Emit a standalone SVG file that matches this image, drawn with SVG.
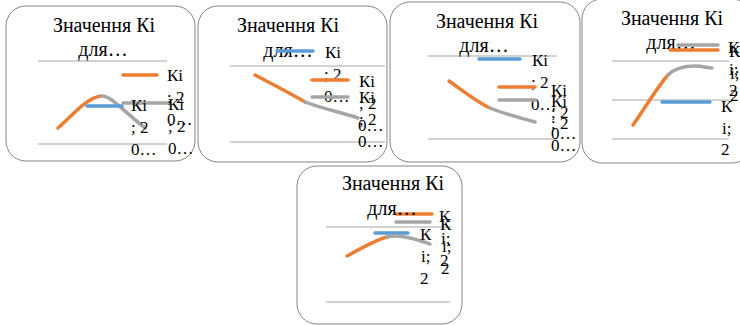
<svg xmlns="http://www.w3.org/2000/svg" width="740" height="325" viewBox="0 0 740 325">
<style>
.frame{fill:#fff;stroke:#858585;stroke-width:1}
.grid{stroke:#a6a6a6;stroke-width:1}
text{font-family:'Liberation Serif','DejaVu Serif',serif;fill:#000}
.t{font-size:20px;text-anchor:middle}
.l{font-size:17px}
.s{fill:none;stroke-width:3.5;stroke-linecap:round;stroke-linejoin:round}
.o{stroke:#ed7d31}
.b{stroke:#5b9bd5}
.g{stroke:#a5a5a5}
</style>
<rect width="740" height="325" fill="#fff"/>

<g id="chart1">
<rect class="frame" x="6" y="6" width="189" height="155" rx="20"/>
<line class="grid" x1="38" y1="61" x2="167" y2="61"/>
<line class="grid" x1="38" y1="144" x2="167" y2="144"/>
<text class="t" x="104" y="32">Значення Кі</text>
<text class="t" x="103" y="56">для…</text>
<path class="s o" d="M58,128 C72,116 86,98 101,96"/>
<path class="s g" d="M101,96 C110,95 120,108 145,128"/>
<path class="s b" d="M87,106 L122,106"/>
<path class="s o" d="M123,75 L157,75"/>
<path class="s g" d="M123,103 L167,103"/>
<text class="l" x="131" y="111">Кі</text>
<text class="l" x="131" y="133">; 2</text>
<text class="l" x="131" y="155">0…</text>
<text class="l" x="167" y="81">Кі</text>
<text class="l" x="167" y="103">; 2</text>
<text class="l" x="167" y="125">0…</text>
<text class="l" x="168" y="110">Кі</text>
<text class="l" x="168" y="132">; 2</text>
<text class="l" x="168" y="154">0…</text>
</g>

<g id="chart2">
<rect class="frame" x="198" y="6" width="189" height="156" rx="20"/>
<line class="grid" x1="230" y1="66" x2="385" y2="66"/>
<line class="grid" x1="230" y1="142" x2="385" y2="142"/>
<text class="t" x="288" y="32">Значення Кі</text>
<text class="t" x="288" y="57">для…</text>
<path class="s b" d="M277,51 L313,51"/>
<path class="s o" d="M255,75 C270,83 290,93 305,102"/>
<path class="s g" d="M305,102 C320,108 340,112 358,118"/>
<text class="l" x="325" y="58">Кі</text>
<text class="l" x="324" y="80">; 2</text>
<text class="l" x="324" y="102">0…</text>
<path class="s o" d="M312,80 L348,80"/>
<path class="s g" d="M312,97 L348,97"/>
<text class="l" x="359" y="87">Кі</text>
<text class="l" x="359" y="109">; 2</text>
<text class="l" x="358" y="131">0…</text>
<text class="l" x="359" y="103">Кі</text>
<text class="l" x="359" y="125">; 2</text>
<text class="l" x="358" y="147">0…</text>
</g>

<g id="chart3">
<rect class="frame" x="390" y="2" width="190" height="160" rx="20"/>
<line class="grid" x1="428" y1="56" x2="557" y2="56"/>
<line class="grid" x1="428" y1="139" x2="557" y2="139"/>
<text class="t" x="487" y="28">Значення Кі</text>
<text class="t" x="484" y="52">для…</text>
<path class="s b" d="M479,59 L520,59"/>
<path class="s o" d="M449,81 C462,90 477,102 490,108"/>
<path class="s g" d="M490,108 C505,114 520,118 535,122"/>
<text class="l" x="532" y="66">Кі</text>
<text class="l" x="531" y="88">; 2</text>
<text class="l" x="531" y="110">0…</text>
<path class="s o" d="M499,87 L535,87"/>
<path class="s g" d="M499,100 L535,100"/>
<text class="l" x="551" y="96">Кі</text>
<text class="l" x="551" y="118">; 2</text>
<text class="l" x="551" y="139">0…</text>
<text class="l" x="551" y="107">Кі</text>
<text class="l" x="551" y="129">; 2</text>
<text class="l" x="551" y="151">0…</text>
</g>

<g id="chart4">
<rect class="frame" x="582" y="-1" width="170" height="164" rx="20"/>
<line class="grid" x1="612" y1="61" x2="729" y2="61"/>
<line class="grid" x1="612" y1="100" x2="729" y2="100"/>
<line class="grid" x1="612" y1="139" x2="729" y2="139"/>
<text class="t" x="672" y="25">Значення Кі</text>
<text class="t" x="671" y="49">для…</text>
<path class="s g" d="M678,45 L718,45"/>
<path class="s o" d="M670,50 L718,50"/>
<path class="s o" d="M633,125 C645,108 658,86 668,75"/>
<path class="s g" d="M668,75 C675,68 685,66 695,66 C702,66 708,68 712,68"/>
<path class="s b" d="M662,102 L710,102"/>
<text class="l" x="728" y="53">К</text>
<text class="l" x="729" y="75">і;</text>
<text class="l" x="729" y="96">2</text>
<text class="l" x="729" y="57">К</text>
<text class="l" x="730" y="79">і;</text>
<text class="l" x="730" y="101">2</text>
<text class="l" x="721" y="112">К</text>
<text class="l" x="722" y="134">і;</text>
<text class="l" x="721" y="155">2</text>
</g>

<g id="chart5">
<rect class="frame" x="297" y="166" width="165" height="158" rx="20"/>
<line class="grid" x1="326" y1="227" x2="452" y2="227"/>
<line class="grid" x1="326" y1="302" x2="450" y2="302"/>
<text class="t" x="393" y="190">Значення Кі</text>
<path class="s o" d="M396,214 L432,214"/>
<path class="s g" d="M396,222 L430,222"/>
<text class="t" x="392" y="215">для…</text>
<path class="s b" d="M375,233 L408,233"/>
<path class="s o" d="M347,256 C360,249 375,240 387,237"/>
<path class="s g" d="M387,237 C395,235 402,236 410,238 C418,240 425,242 430,244"/>
<text class="l" x="439" y="222">К</text>
<text class="l" x="441" y="244">і;</text>
<text class="l" x="440" y="266">2</text>
<text class="l" x="440" y="230">К</text>
<text class="l" x="442" y="252">і;</text>
<text class="l" x="441" y="274">2</text>
<text class="l" x="420" y="240">К</text>
<text class="l" x="421" y="262">і;</text>
<text class="l" x="420" y="284">2</text>
</g>
</svg>
